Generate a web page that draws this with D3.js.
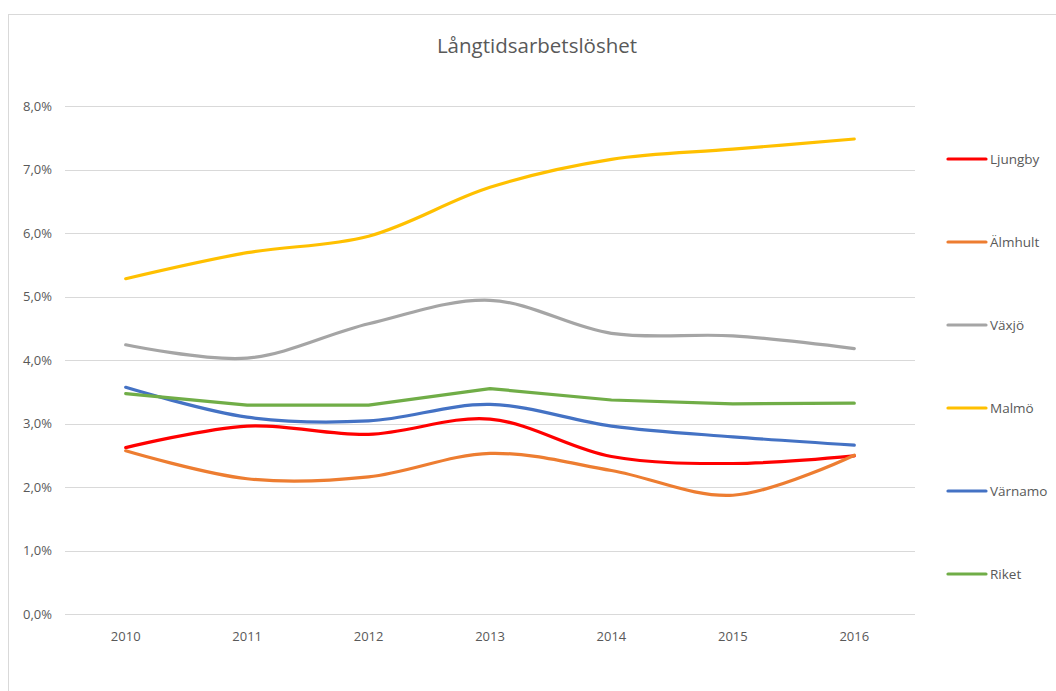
<!DOCTYPE html>
<html>
<head>
<meta charset="utf-8">
<script src="https://cdn.jsdelivr.net/npm/d3@7"></script>
<style>
  body { margin: 0; background: #fff; }
  text { font-family: "Open Sans", "Liberation Sans", sans-serif; fill: #595959; }
</style>
</head>
<body>
<script>
// data (percent)
const years = ["2010", "2011", "2012", "2013", "2014", "2015", "2016"];
const ljungby = [2.62, 2.96, 2.83, 3.07, 2.48, 2.37, 2.49];
const almhult = [2.57, 2.13, 2.16, 2.53, 2.26, 1.87, 2.50];
const vaxjo   = [4.24, 4.03, 4.57, 4.94, 4.42, 4.38, 4.18];
const malmo   = [5.28, 5.69, 5.95, 6.72, 7.16, 7.32, 7.48];
const varnamo = [3.57, 3.10, 3.04, 3.30, 2.96, 2.79, 2.66];
const riket   = [3.47, 3.29, 3.29, 3.55, 3.37, 3.31, 3.32];
const yTicks = [0, 1, 2, 3, 4, 5, 6, 7, 8];

const series = [
  { name: "Ljungby", values: ljungby, color: "#ff0000", smooth: true },
  { name: "Älmhult", values: almhult, color: "#ed7d31", smooth: true },
  { name: "Växjö",   values: vaxjo,   color: "#a5a5a5", smooth: true },
  { name: "Malmö",   values: malmo,   color: "#ffc000", smooth: true },
  { name: "Värnamo", values: varnamo, color: "#4472c4", smooth: true },
  { name: "Riket",   values: riket,   color: "#70ad47", smooth: false }
];

const width = 1056, height = 691;
const svg = d3.select("body").append("svg")
  .attr("width", width)
  .attr("height", height);

// chart border
svg.append("rect")
  .attr("x", 8.5).attr("y", 14.5)
  .attr("width", width).attr("height", height)
  .attr("fill", "none")
  .attr("stroke", "#d9d9d9");

svg.append("text")
  .attr("x", 537).attr("y", 53)
  .attr("text-anchor", "middle")
  .style("font-size", "20.5px")
  .text("Långtidsarbetslöshet");

const x = d3.scalePoint().domain(years).range([65, 915]).padding(0.5);
const y = d3.scaleLinear().domain([0, 8]).range([614, 106]);

// gridlines
svg.append("g")
  .selectAll("line")
  .data(yTicks)
  .join("line")
  .attr("x1", 65).attr("x2", 915)
  .attr("y1", d => Math.round(y(d)) + 0.5)
  .attr("y2", d => Math.round(y(d)) + 0.5)
  .attr("stroke", "#d9d9d9")
  .attr("stroke-width", 1);

// y labels
svg.append("g")
  .selectAll("text")
  .data(yTicks)
  .join("text")
  .attr("x", 52)
  .attr("y", d => y(d) + 4.5)
  .attr("text-anchor", "end")
  .style("font-size", "13px")
  .text(d => d3.format(".1f")(d).replace(".", ",") + "%");

// x labels
svg.append("g")
  .selectAll("text")
  .data(years)
  .join("text")
  .attr("x", d => x(d))
  .attr("y", 641)
  .attr("text-anchor", "middle")
  .style("font-size", "13px")
  .text(d => d);

// lines
series.forEach(s => {
  const line = d3.line()
    .x((d, i) => x(years[i]))
    .y(d => y(d))
    .curve(s.smooth ? d3.curveCatmullRom.alpha(0.5) : d3.curveLinear);
  svg.append("path")
    .datum(s.values)
    .attr("d", line)
    .attr("fill", "none")
    .attr("stroke", s.color)
    .attr("stroke-width", 3.2)
    .attr("stroke-linecap", "round")
    .attr("stroke-linejoin", "round");
});

// legend
const legend = svg.append("g")
  .selectAll("g")
  .data(series)
  .join("g")
  .attr("transform", (d, i) => `translate(948, ${159 + i * 83})`);

legend.append("line")
  .attr("x1", 0).attr("x2", 38)
  .attr("stroke", d => d.color)
  .attr("stroke-width", 3.2)
  .attr("stroke-linecap", "round");

legend.append("text")
  .attr("x", 42)
  .attr("y", 5)
  .style("font-size", "13.5px")
  .text(d => d.name);
</script>
</body>
</html>
